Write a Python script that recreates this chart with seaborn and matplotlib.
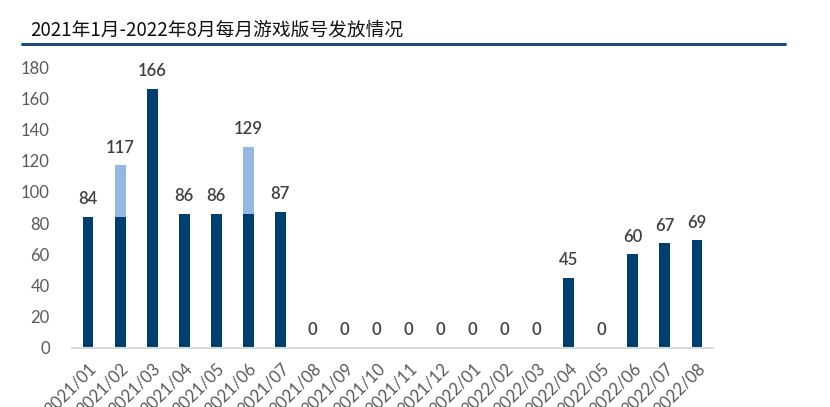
import matplotlib
matplotlib.use("Agg")
import matplotlib.pyplot as plt
import seaborn as sns
import pandas as pd

months = ["2021/01", "2021/02", "2021/03", "2021/04", "2021/05", "2021/06", "2021/07",
          "2021/08", "2021/09", "2021/10", "2021/11", "2021/12", "2022/01", "2022/02",
          "2022/03", "2022/04", "2022/05", "2022/06", "2022/07", "2022/08"]
domestic = [84, 84, 166, 86, 86, 86, 87, 0, 0, 0, 0, 0, 0, 0, 0, 45, 0, 60, 67, 69]
totals = [84, 117, 166, 86, 86, 129, 87, 0, 0, 0, 0, 0, 0, 0, 0, 45, 0, 60, 67, 69]
yticks = [0, 20, 40, 60, 80, 100, 120, 140, 160, 180]
title = "2021年1月-2022年8月每月游戏版号发放情况"

DARK = "#003E70"
LIGHT = "#95B7E1"

sns.set_theme(style="white")
plt.rcParams['font.family'] = ['Lato', 'Noto Sans CJK SC', 'DejaVu Sans']

df = pd.DataFrame({"month": months, "domestic": domestic, "total": totals})

fig = plt.figure(figsize=(8.30, 4.07), dpi=100)
ax = fig.add_axes([72/830, 1 - 348/407, (713-72)/830, (348-67)/407])

sns.barplot(data=df, x="month", y="total", color=LIGHT, width=0.34,
            saturation=1, linewidth=0, ax=ax)
sns.barplot(data=df, x="month", y="domestic", color=DARK, width=0.34,
            saturation=1, linewidth=0, ax=ax)

for i, v in enumerate(totals):
    ax.annotate(str(v), (i, v), xytext=(0, 7), textcoords="offset points",
                ha="center", va="bottom", fontsize=12, color="#404040",
                fontweight="semibold")

ax.set_xlim(-0.5, 19.5)
ax.set_ylim(0, 180)
ax.set_yticks(yticks)
ax.set_yticklabels([str(t) for t in yticks], fontsize=12, color="#595959")
ax.set_xlabel("")
ax.set_ylabel("")
ax.tick_params(axis="y", length=0, pad=16)
ax.tick_params(axis="x", length=0, pad=9)
for lbl in ax.get_xticklabels():
    lbl.set_rotation(45)
    lbl.set_ha("right")
    lbl.set_rotation_mode("anchor")
    lbl.set_fontsize(12)
    lbl.set_color("#595959")

for s in ["top", "right", "left"]:
    ax.spines[s].set_visible(False)
ax.spines["bottom"].set_color("#D9D9D9")
ax.spines["bottom"].set_linewidth(1.5)
ax.grid(False)

fig.text(30/830, 1 - 30/407, title, fontsize=13.5, color="#111111",
         ha="left", va="center", family=['Noto Sans CJK SC', 'DejaVu Sans'])
fig.add_artist(plt.Line2D([22/830, 785/830], [1 - 44/407, 1 - 44/407],
                          color="#1F4E79", linewidth=2.2))

fig.savefig("out.png", dpi=100)
